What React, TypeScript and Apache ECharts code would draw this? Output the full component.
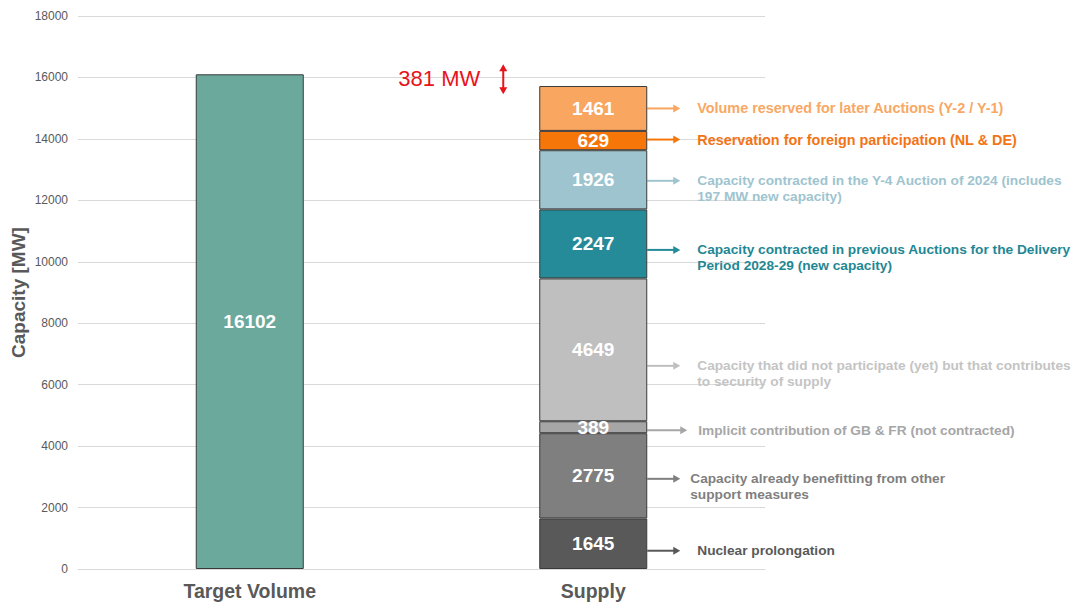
import React, { useEffect, useRef } from "react";
import * as echarts from "echarts";

const categories = ["Target Volume", "Supply"];
const targetVolume = 16102;
const supplyNames = [
  "Nuclear prolongation",
  "Capacity already benefitting from other support measures",
  "Implicit contribution of GB & FR (not contracted)",
  "Capacity that did not participate (yet) but that contributes to security of supply",
  "Capacity contracted in previous Auctions for the Delivery Period 2028-29 (new capacity)",
  "Capacity contracted in the Y-4 Auction of 2024 (includes 197 MW new capacity)",
  "Reservation for foreign participation (NL & DE)",
  "Volume reserved for later Auctions (Y-2 / Y-1)",
];
const supplyValues = [1645, 2775, 389, 4649, 2247, 1926, 629, 1461];
const annotationLines = [
  ["Nuclear prolongation"],
  ["Capacity already benefitting from other", "support measures"],
  ["Implicit contribution of GB & FR (not contracted)"],
  ["Capacity that did not participate (yet) but that contributes", "to security of supply"],
  ["Capacity contracted in previous Auctions for the Delivery", "Period 2028-29 (new capacity)"],
  ["Capacity contracted in the Y-4 Auction of 2024 (includes", "197 MW new capacity)"],
  ["Reservation for foreign participation (NL & DE)"],
  ["Volume reserved for later Auctions (Y-2 / Y-1)"],
];
const gapLabel = "381 MW";
const yTicks = { min: 0, max: 18000, interval: 2000 };

const segColors = ["#595959", "#7f7f7f", "#a6a6a6", "#bfbfbf", "#258b98", "#9ec4cf", "#f7760a", "#f9a660"];
const textColors = ["#595959", "#7f7f7f", "#a6a6a6", "#c4c4c4", "#1f8794", "#9ec4cf", "#f27416", "#f8a864"];
const arrowColors = ["#595959", "#7f7f7f", "#a6a6a6", "#bfbfbf", "#258b98", "#9ec4cf", "#f7760a", "#f9a660"];
const annotDy = [7, 3, 3, 16, 6, 1, -1, 0];
const textDx = [50, 43, 51, 50, 50, 50, 50, 50];
const arrowLen = [33, 33, 40, 33, 33, 33, 33, 33];
const textSize = [13.7, 13.7, 13.7, 13.7, 13.7, 13.7, 14.4, 14.4];
const targetColor = "#6aa99c";
const FONT = "Liberation Sans, Arial, sans-serif";
const BAR_W = 108;

export default function App() {
  const ref = useRef<HTMLDivElement>(null);
  useEffect(() => {
    document.body.style.margin = "0";
    const chart = echarts.init(ref.current!, undefined, { renderer: "svg" });
    const series: any[] = [
      {
        name: "Target Volume",
        type: "bar",
        data: [targetVolume, "-"],
        barWidth: BAR_W,
        barGap: "-100%",
        itemStyle: { color: targetColor, borderColor: "#3a3a3a", borderWidth: 1 },
        label: { show: true, position: "inside", color: "#fff", fontWeight: "bold", fontSize: 19, fontFamily: FONT },
      },
    ];
    supplyValues.forEach((v, i) => {
      series.push({
        name: supplyNames[i],
        type: "bar",
        stack: "supply",
        data: ["-", v],
        barWidth: BAR_W,
        barGap: "-100%",
        itemStyle: { color: segColors[i], borderColor: "#3a3a3a", borderWidth: 1 },
        label: { show: true, position: "inside", color: "#fff", fontWeight: "bold", fontSize: 19, fontFamily: FONT },
      });
    });
    chart.setOption({
      animation: false,
      textStyle: { fontFamily: FONT },
      grid: { left: 78, right: 308, top: 16, bottom: 33, outerBoundsMode: "none", containLabel: false },
      xAxis: {
        type: "category",
        data: categories,
        axisLine: { lineStyle: { color: "#d9d9d9" } },
        axisTick: { show: false },
        axisLabel: { color: "#595959", fontWeight: "bold", fontSize: 19.5, margin: 12, fontFamily: FONT },
      },
      yAxis: {
        type: "value",
        min: yTicks.min,
        max: yTicks.max,
        interval: yTicks.interval,
        name: "Capacity [MW]",
        nameLocation: "middle",
        nameGap: 50,
        nameMoveOverlap: false,
        nameTextStyle: { color: "#595959", fontWeight: "bold", fontSize: 19, fontFamily: FONT },
        axisLine: { show: false },
        axisTick: { show: false },
        axisLabel: { color: "#595959", fontSize: 12, margin: 10, fontFamily: FONT, formatter: (v: number) => String(v) },
        splitLine: { lineStyle: { color: "#d9d9d9" } },
      },
      series,
    });

    const graphics: any[] = [];
    let cum = 0;
    supplyValues.forEach((v, i) => {
      const mid = cum + v / 2;
      cum += v;
      const p = chart.convertToPixel({ gridIndex: 0 }, [1, mid]) as number[];
      const x0 = p[0] + BAR_W / 2;
      const y = p[1] + annotDy[i];
      const x1 = x0 + arrowLen[i];
      graphics.push({
        type: "line",
        shape: { x1: x0, y1: y, x2: x1 - 6, y2: y },
        style: { stroke: arrowColors[i], lineWidth: 2 },
      });
      graphics.push({
        type: "polygon",
        shape: { points: [[x1 - 7, y - 4], [x1, y], [x1 - 7, y + 4]] },
        style: { fill: arrowColors[i] },
      });
      const lines = annotationLines[i];
      const lh = 16;
      lines.forEach((t, k) => {
        graphics.push({
          type: "text",
          x: x0 + textDx[i],
          y: y + k * lh,
          style: {
            text: t,
            fill: textColors[i],
            font: `bold ${textSize[i]}px ${FONT}`,
            textVerticalAlign: "middle",
            verticalAlign: "middle",
          },
        });
      });
    });
    // gap annotation
    const gapMid = (cum + targetVolume) / 2;
    const gp = chart.convertToPixel({ gridIndex: 0 }, [1, gapMid]) as number[];
    const ax = gp[0] - 90;
    const ay = gp[1] - 1;
    graphics.push({
      type: "line",
      shape: { x1: ax, y1: ay - 9, x2: ax, y2: ay + 9 },
      style: { stroke: "#e8141c", lineWidth: 2 },
    });
    graphics.push({
      type: "polygon",
      shape: { points: [[ax - 4, ay - 8], [ax, ay - 15], [ax + 4, ay - 8]] },
      style: { fill: "#e8141c" },
    });
    graphics.push({
      type: "polygon",
      shape: { points: [[ax - 4, ay + 8], [ax, ay + 15], [ax + 4, ay + 8]] },
      style: { fill: "#e8141c" },
    });
    graphics.push({
      type: "text",
      x: ax - 23,
      y: ay - 1,
      style: {
        text: gapLabel,
        fill: "#e8141c",
        font: `22px ${FONT}`,
        align: "right",
        textAlign: "right",
        verticalAlign: "middle",
        textVerticalAlign: "middle",
      },
    });
    chart.setOption({ graphic: graphics });
    return () => chart.dispose();
  }, []);
  return <div ref={ref} style={{ width: 1073, height: 602 }} />;
}
